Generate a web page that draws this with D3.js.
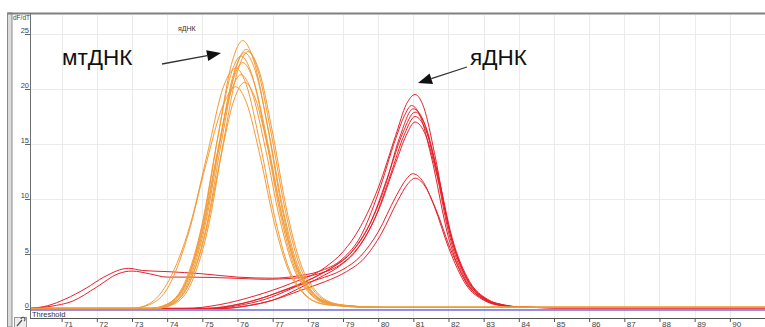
<!DOCTYPE html>
<html>
<head>
<meta charset="utf-8">
<script src="https://cdn.jsdelivr.net/npm/d3@7"></script>
<style>
  html, body { margin: 0; padding: 0; background: #fff; }
  svg { display: block; font-family: "Liberation Sans", Arial, sans-serif; }
</style>
</head>
<body>
<script>
// melt curves: [temperature °C, dF/dT]
// mtDNA (orange)
const mt1 = [[70.1,0.05],[73.55,0.05],[74.05,0.5],[74.55,2.5],[75.05,8.3],[75.45,15.8],[75.85,22.5],[76.15,24.4],[76.45,22.7],[76.85,16.7],[77.25,9.4],[77.65,4.2],[78.05,1.8],[78.55,0.6],[79.05,0.3],[80.05,0.15],[91,0.15]];
const mt2 = [[70.1,0.05],[73.65,0.05],[74.15,0.46],[74.65,2.5],[75.15,8.0],[75.55,15.3],[75.95,21.8],[76.25,23.6],[76.55,22.0],[76.95,16.1],[77.35,9.1],[77.75,4.1],[78.15,1.75],[78.65,0.56],[79.15,0.3],[80.15,0.15],[91,0.15]];
const mt3 = [[70.1,0.05],[73.6,0.05],[74.1,0.46],[74.6,2.4],[75.1,7.9],[75.5,15.1],[75.9,21.5],[76.2,23.3],[76.5,21.7],[76.9,15.9],[77.3,9.0],[77.7,4.05],[78.1,1.7],[78.6,0.55],[79.1,0.3],[80.1,0.15],[91,0.15]];
const mt4 = [[70.1,0.05],[73.5,0.05],[74.0,0.45],[74.5,2.4],[75.0,7.8],[75.4,14.9],[75.8,21.2],[76.1,23.0],[76.4,21.4],[76.8,15.7],[77.2,8.9],[77.6,4.0],[78.0,1.7],[78.5,0.55],[79.0,0.3],[80.0,0.15],[91,0.15]];
const mt5 = [[70.1,0.05],[73.7,0.05],[74.2,0.46],[74.7,2.45],[75.2,7.9],[75.6,15.2],[76.0,21.6],[76.3,23.4],[76.6,21.8],[77.0,16.0],[77.4,9.0],[77.8,4.1],[78.2,1.75],[78.7,0.56],[79.2,0.3],[80.2,0.15],[91,0.15]];
const mt6 = [[70.1,0.05],[73.0,0.05],[73.5,0.5],[74.05,2.6],[74.65,7.6],[75.15,14.2],[75.6,20.2],[75.95,21.9],[76.25,20.4],[76.65,14.9],[77.05,8.5],[77.45,3.8],[77.85,1.6],[78.35,0.52],[78.85,0.3],[79.85,0.15],[91,0.15]];
const mt7 = [[70.1,0.05],[73.5,0.05],[74.0,0.42],[74.5,2.2],[75.0,7.2],[75.4,13.8],[75.8,19.6],[76.1,21.3],[76.4,19.8],[76.8,14.5],[77.2,8.2],[77.6,3.7],[78.0,1.6],[78.5,0.5],[79.0,0.3],[80.0,0.15],[91,0.15]];
const mt8 = [[70.1,0.05],[73.6,0.05],[74.1,0.4],[74.6,2.15],[75.1,7.0],[75.5,13.4],[75.9,19.0],[76.2,20.6],[76.5,19.2],[76.9,14.1],[77.3,8.0],[77.7,3.6],[78.1,1.55],[78.6,0.5],[79.1,0.3],[80.1,0.15],[91,0.15]];
const mt9 = [[70.1,0.05],[72.95,0.05],[73.5,0.4],[74.05,2.1],[74.6,6.8],[75.1,13.1],[75.6,18.6],[75.95,20.2],[76.25,18.8],[76.65,13.8],[77.05,7.8],[77.45,3.5],[77.85,1.5],[78.35,0.5],[78.85,0.3],[79.85,0.15],[91,0.15]];
const mt10 = [[70.1,0.05],[73.55,0.05],[74.05,0.44],[74.55,2.3],[75.05,7.6],[75.45,14.5],[75.85,20.6],[76.15,22.4],[76.45,20.8],[76.85,15.3],[77.25,8.7],[77.65,3.9],[78.05,1.65],[78.55,0.54],[79.05,0.3],[80.05,0.15],[91,0.15]];

// nuclear DNA (red)
const nu1 = [[70.1,0.05],[74.5,0.05],[75.5,0.4],[76.5,1.2],[77.5,2.3],[78.5,3.8],[79,5.2],[79.5,7.5],[80,11],[80.5,15.8],[80.8,18.6],[81.05,19.5],[81.3,18.3],[81.6,14.2],[82,7.5],[82.5,2.8],[83,1.0],[83.5,0.4],[84,0.2],[85,0.12],[91,0.12]];
const nu2 = [[70.1,0.05],[70.6,0.3],[71.1,0.9],[71.7,1.9],[72.2,2.9],[72.9,3.7],[73.3,3.5],[74,3.4],[75,3.2],[76,2.9],[77,2.8],[77.7,3.0],[78.3,3.4],[79,4.6],[79.5,6.6],[80,10.5],[80.5,15.5],[80.75,17.6],[80.95,18.5],[81.2,17.5],[81.5,14],[82,6.5],[82.5,2.4],[83,0.9],[83.5,0.35],[84,0.18],[85,0.12],[91,0.12]];
const nu3 = [[70.1,0.05],[75,0.05],[75.8,0.3],[76.5,0.8],[77.3,1.7],[78,2.6],[78.6,3.6],[79.2,5],[79.7,7.3],[80.2,11.2],[80.6,15.5],[81,18.2],[81.3,17],[81.6,13.4],[82,7],[82.5,2.6],[83,0.9],[83.5,0.35],[84,0.18],[85,0.12],[91,0.12]];
const nu4 = [[70.1,0.05],[75.3,0.05],[76,0.3],[76.8,0.9],[77.5,1.8],[78.2,2.9],[78.8,4],[79.3,5.4],[79.8,8],[80.3,12.3],[80.7,16],[81.05,17.9],[81.35,16.6],[81.7,12.2],[82.1,6.3],[82.6,2.3],[83.1,0.8],[83.6,0.3],[84,0.18],[85,0.12],[91,0.12]];
const nu5 = [[70.1,0.05],[75.6,0.05],[76.3,0.3],[77,0.8],[77.7,1.8],[78.3,2.8],[78.9,3.9],[79.4,5.4],[79.9,8.2],[80.35,12.2],[80.75,15.9],[81.05,17.5],[81.35,16.3],[81.7,12.2],[82.1,6.5],[82.6,2.5],[83.1,0.9],[83.6,0.35],[84,0.18],[85,0.12],[91,0.12]];
const nu6 = [[70.1,0.05],[70.7,0.25],[71.3,0.7],[72,2.0],[72.6,3.2],[73,3.45],[73.5,3.2],[74,2.9],[74.7,2.9],[75.9,2.8],[76.8,2.7],[77.6,2.8],[78.3,3.2],[79,4.2],[79.5,5.9],[80,8.9],[80.5,13.3],[80.8,15.8],[81.05,17],[81.35,15.8],[81.7,11.8],[82.1,6.2],[82.6,2.4],[83.1,0.85],[83.6,0.35],[84,0.18],[85,0.12],[91,0.12]];
const nu7 = [[70.1,0.05],[75.2,0.05],[76,0.4],[76.8,1.1],[77.6,2.0],[78.3,2.7],[79,3.6],[79.5,4.8],[80,7.0],[80.5,10.2],[80.8,11.8],[80.98,12.3],[81.25,11.7],[81.6,9.3],[82,5.6],[82.5,2.2],[83,0.8],[83.5,0.3],[84,0.18],[85,0.12],[91,0.12]];
const nu8 = [[70.1,0.05],[75.5,0.05],[76.3,0.3],[77,0.8],[77.8,1.7],[78.5,2.5],[79.1,3.4],[79.6,4.6],[80.1,6.9],[80.55,9.8],[80.85,11.4],[81.05,11.9],[81.3,11.3],[81.65,9],[82.05,5.5],[82.55,2.2],[83.05,0.8],[83.55,0.3],[84,0.18],[85,0.12],[91,0.12]];

const mtCurves = [mt1, mt2, mt3, mt4, mt5, mt6, mt7, mt8, mt9, mt10];
const nuCurves = [nu1, nu2, nu3, nu4, nu5, nu6, nu7, nu8];
const tempTicks = [71,72,73,74,75,76,77,78,79,80,81,82,83,84,85,86,87,88,89,90];
const valueTicks = [0,5,10,15,20,25];
const thresholdValue = 0;

const W = 765, H = 327;
const plotLeft = 30, plotTop = 14, axisY = 318;

const svg = d3.select('body').append('svg')
    .attr('width', W)
    .attr('height', H);

const x = d3.scaleLinear().domain([70.1, 91]).range([plotLeft, W]);
const y = d3.scaleLinear().domain([0, 25]).range([309, 34]);

// frame bits
svg.append('rect')
    .attr('x', 7.5).attr('y', 13).attr('width', 4.5).attr('height', H - 13)
    .attr('fill', '#dcdcdc').attr('stroke', '#8a8a8a').attr('stroke-width', 1);
svg.append('line')
    .attr('x1', 7.5).attr('x2', W).attr('y1', 13.5).attr('y2', 13.5)
    .attr('stroke', '#808080').attr('stroke-width', 2);

// grid
svg.append('g').selectAll('line').data(tempTicks).enter().append('line')
    .attr('x1', d => Math.round(x(d)) + 0.5).attr('x2', d => Math.round(x(d)) + 0.5)
    .attr('y1', plotTop + 1).attr('y2', axisY)
    .attr('stroke', '#ebebeb');
svg.append('g').selectAll('line').data(valueTicks).enter().append('line')
    .attr('x1', plotLeft).attr('x2', W)
    .attr('y1', d => Math.round(y(d)) + 0.5).attr('y2', d => Math.round(y(d)) + 0.5)
    .attr('stroke', '#ebebeb');

// clip to plot
svg.append('clipPath').attr('id', 'plot')
    .append('rect').attr('x', plotLeft + 1).attr('y', plotTop + 1)
    .attr('width', W - plotLeft).attr('height', axisY - plotTop - 1);

// threshold
svg.append('line')
    .attr('x1', plotLeft).attr('x2', W)
    .attr('y1', y(thresholdValue) + 1).attr('y2', y(thresholdValue) + 1)
    .attr('stroke', '#7668e4').attr('stroke-width', 1.6);
svg.append('text')
    .attr('x', 32).attr('y', 317)
    .attr('font-size', 7.5).attr('fill', '#333')
    .text('Threshold');

const line = d3.line()
    .x(d => x(d[0]))
    .y(d => y(d[1]))
    .curve(d3.curveMonotoneX);

const curves = svg.append('g').attr('clip-path', 'url(#plot)');
curves.selectAll('.nu').data(nuCurves).enter().append('path')
    .attr('class', 'nu')
    .attr('d', line)
    .attr('fill', 'none')
    .attr('stroke', '#e6212b')
    .attr('stroke-width', 1);
curves.selectAll('.mt').data(mtCurves).enter().append('path')
    .attr('class', 'mt')
    .attr('d', line)
    .attr('fill', 'none')
    .attr('stroke', '#f39a36')
    .attr('stroke-width', 1);

// axes
const yAxis = svg.append('g')
    .attr('transform', `translate(${plotLeft},0)`)
    .call(d3.axisLeft(y).tickValues(valueTicks).tickSize(5).tickFormat(d3.format('d')));
yAxis.select('.domain').remove();
yAxis.selectAll('line').attr('stroke', '#666');
yAxis.selectAll('text')
    .attr('x', -1).attr('dy', '-1.5')
    .attr('font-size', 7.5).attr('fill', '#444')
    .attr('font-family', '"Liberation Sans", Arial, sans-serif');

svg.append('line')
    .attr('x1', plotLeft + 0.5).attr('x2', plotLeft + 0.5).attr('y1', 13).attr('y2', axisY)
    .attr('stroke', '#6e6e6e');

const xAxis = svg.append('g')
    .attr('transform', `translate(0,${axisY})`)
    .call(d3.axisBottom(x).tickValues(tempTicks).tickSize(4).tickFormat(d3.format('d')));
xAxis.select('.domain').remove();
xAxis.selectAll('line').attr('stroke', '#555');
xAxis.selectAll('text')
    .attr('x', 2).attr('y', 8.5).attr('dy', 0)
    .attr('text-anchor', 'start')
    .attr('font-size', 8).attr('fill', '#444')
    .attr('font-family', '"Liberation Sans", Arial, sans-serif');
svg.append('line')
    .attr('x1', plotLeft).attr('x2', W).attr('y1', axisY + 0.5).attr('y2', axisY + 0.5)
    .attr('stroke', '#555');

svg.append('text')
    .attr('x', 13).attr('y', 20)
    .attr('font-size', 6.5).attr('fill', '#444')
    .text('dF/dT');

// small icon in the corner
svg.append('rect')
    .attr('x', 14.5).attr('y', 317.5).attr('width', 12).attr('height', 10)
    .attr('fill', '#eee').attr('stroke', '#999');
svg.append('path')
    .attr('d', 'M17,326 L22,320 M21,319 a2,2 0 1,1 3,2')
    .attr('fill', 'none').attr('stroke', '#555').attr('stroke-width', 1.2);

// annotations
svg.append('text')
    .attr('x', 178).attr('y', 31)
    .attr('font-size', 7).attr('fill', '#333')
    .text('яДНК');

svg.append('text')
    .attr('x', 62).attr('y', 65)
    .attr('font-size', 22.5).attr('fill', '#111')
    .text('мтДНК');
svg.append('text')
    .attr('x', 470).attr('y', 65)
    .attr('font-size', 22.5).attr('fill', '#111')
    .text('яДНК');

function arrow(x1, y1, x2, y2) {
    const dx = x2 - x1, dy = y2 - y1, len = Math.hypot(dx, dy);
    const ux = dx / len, uy = dy / len, hl = 14, hw = 5.5;
    const bx = x2 - ux * hl, by = y2 - uy * hl;
    svg.append('line')
        .attr('x1', x1).attr('y1', y1).attr('x2', bx).attr('y2', by)
        .attr('stroke', '#333').attr('stroke-width', 1.3);
    svg.append('path')
        .attr('d', `M${x2},${y2} L${bx - uy * hw},${by + ux * hw} L${bx + uy * hw},${by - ux * hw} Z`)
        .attr('fill', '#111');
}
arrow(162, 64, 221, 53);
arrow(467, 67, 418, 83);
</script>
</body>
</html>
